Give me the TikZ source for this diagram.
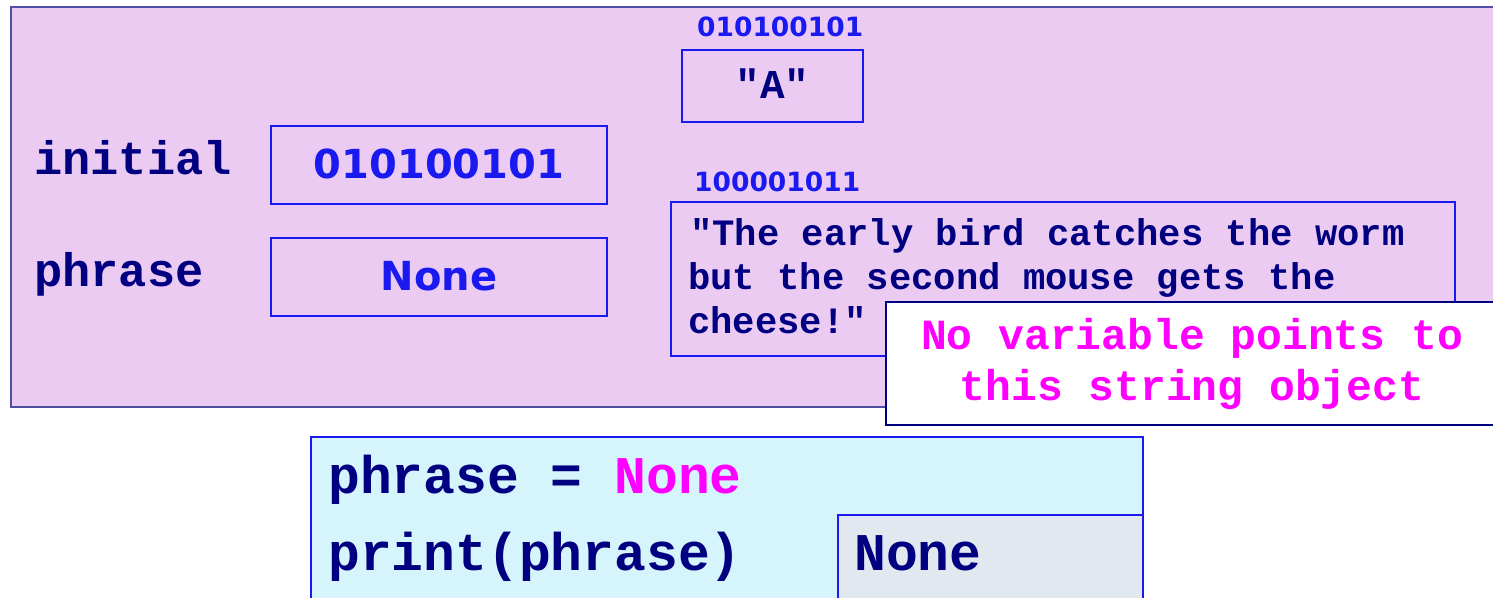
\documentclass[tikz,border=0pt]{standalone}
\usepackage{fontspec}
\setmonofont{Liberation Mono}
\newfontfamily\addrfont{DejaVu Sans}
\definecolor{memfill}{HTML}{ECCBF2}
\definecolor{memline}{HTML}{4E4EA2}
\definecolor{navytext}{HTML}{000080}
\definecolor{cellblue}{HTML}{1A1AF0}
\definecolor{pinktext}{HTML}{FF00FF}
\definecolor{codefill}{HTML}{D5F4FB}
\definecolor{outfill}{HTML}{E2E8F0}
\tikzset{
  cell/.style={draw=cellblue, line width=1.3pt},
  tt/.style={text=navytext, inner sep=0pt, anchor=base west},
  addr/.style={text=cellblue, inner sep=0pt, anchor=base west,
    font=\fontsize{26.5}{26.5}\selectfont\addrfont\bfseries},
  value/.style={text=cellblue, inner sep=0pt, anchor=base,
    font=\fontsize{40}{40}\selectfont\addrfont\bfseries}
}
\begin{document}
\begin{tikzpicture}[x=1pt,y=-1pt]
    \useasboundingbox (0,0) rectangle (1493,597);
    \clip (0,0) rectangle (1493,597);
    % memory area
    \filldraw [fill=memfill, draw=memline, line width=1.5pt] (11,7) rectangle (1530,407);
    \draw [cell] (682,50) rectangle (863,122);
    \draw [cell] (271,126) rectangle (607,204);
    \draw [cell] (271,238) rectangle (607,316);
    \draw [cell] (671,202) rectangle (1455,356);
    \node [addr] (addra) at (697,36) {010100101};
    \node [addr] (addrs) at (694,191) {100001011};
    \node [tt, anchor=base, font=\fontsize{41}{41}\selectfont\ttfamily\bfseries] (stra) at (772.5,98) {"A"};
    \node [tt, font=\fontsize{47}{47}\selectfont\ttfamily\bfseries] (initial) at (34,174) {initial};
    \node [tt, font=\fontsize{47}{47}\selectfont\ttfamily\bfseries] (phrase) at (34,286) {phrase};
    \node [value] (initval) at (439,178) {010100101};
    \node [value] (phraseval) at (439,290) {None};
    \node [tt, font=\fontsize{37.2}{37.2}\selectfont\ttfamily\bfseries] (strone) at (690,245) {"The early bird catches the worm};
    \node [tt, font=\fontsize{37.2}{37.2}\selectfont\ttfamily\bfseries] (strtwo) at (688,289) {but the second mouse gets the};
    \node [tt, font=\fontsize{37.2}{37.2}\selectfont\ttfamily\bfseries] (strthree) at (688,333) {cheese!"};
    % note
    \filldraw [fill=white, draw=navytext, line width=1.3pt] (886,302) rectangle (1530,425);
    \node [tt, anchor=base, text=pinktext, font=\fontsize{43}{43}\selectfont\ttfamily\bfseries] (noteone) at (1192,349) {No variable points to};
    \node [tt, anchor=base, text=pinktext, font=\fontsize{43}{43}\selectfont\ttfamily\bfseries] (notetwo) at (1192,400) {this string object};
    % code
    \filldraw [fill=codefill, draw=cellblue, line width=1.3pt] (311,437) rectangle (1143,620);
    \filldraw [fill=outfill, draw=cellblue, line width=1.3pt] (838,515) rectangle (1143,620);
    \node [tt, font=\fontsize{53}{53}\selectfont\ttfamily\bfseries] (codeone) at (328,493) {phrase = \textcolor{pinktext}{None}};
    \node [tt, font=\fontsize{53}{53}\selectfont\ttfamily\bfseries] (codetwo) at (328,570) {print(phrase)};
    \node [tt, font=\fontsize{53}{53}\selectfont\ttfamily\bfseries] (output) at (854,570) {None};
\end{tikzpicture}
\end{document}
